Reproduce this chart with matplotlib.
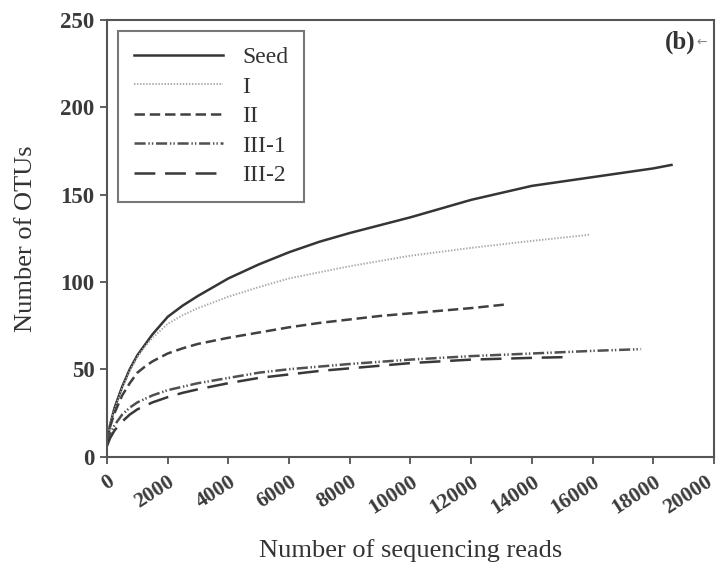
import matplotlib
matplotlib.use("Agg")
import matplotlib.pyplot as plt
import matplotlib.transforms as mtransforms

plt.rcParams['font.family'] = ['Liberation Serif', 'DejaVu Sans']
plt.rcParams['lines.scale_dashes'] = False

# Rarefaction curves: OTUs observed vs. number of sequencing reads
seed_x = [0, 100, 250, 500, 750, 1000, 1250, 1500, 2000, 2500, 3000, 4000, 5000, 6000,
          7000, 8000, 9000, 10000, 12000, 14000, 16000, 18000, 18600]
seed_y = [8, 18, 28, 40, 50, 58, 64, 70, 80, 86.5, 92, 102, 110, 117,
          123, 128, 132.5, 137, 147, 155, 160, 165, 167]

i_x = [0, 100, 250, 500, 750, 1000, 1250, 1500, 2000, 2500, 3000, 4000, 5000, 6000,
       7000, 8000, 9000, 10000, 12000, 14000, 15900]
i_y = [8, 18, 27, 39, 49, 57, 63, 68, 76, 81, 85, 91.5, 97, 102,
       105.5, 109, 112, 115, 119.5, 123.5, 127]

ii_x = [0, 100, 250, 500, 750, 1000, 1250, 1500, 2000, 2500, 3000, 4000, 5000, 6000,
        7000, 8000, 9000, 10000, 12000, 13100]
ii_y = [8, 17, 25, 35, 42, 48, 51.5, 54.5, 59, 62, 64.5, 68, 71, 74,
        76.5, 78.5, 80.5, 82, 85, 87]

iii1_x = [0, 100, 250, 500, 750, 1000, 1250, 1500, 2000, 2500, 3000, 4000, 5000, 6000,
          7000, 8000, 10000, 12000, 14000, 16000, 17600]
iii1_y = [8, 13, 18, 24, 28, 31, 33, 35, 38, 40, 42, 45, 48, 50,
          51.5, 53, 55.5, 57.5, 59, 60.5, 61.5]

iii2_x = [0, 100, 250, 500, 750, 1000, 1250, 1500, 2000, 2500, 3000, 4000, 5000, 6000,
          7000, 8000, 10000, 12000, 14000, 15300]
iii2_y = [6, 10.5, 15, 20, 24, 27, 29, 31, 34, 36.5, 38.5, 42, 45, 47,
          49, 50.5, 53.5, 55.5, 56.5, 57]

x_ticks = [0, 2000, 4000, 6000, 8000, 10000, 12000, 14000, 16000, 18000, 20000]
y_ticks = [0, 50, 100, 150, 200, 250]

fig = plt.figure(figsize=(7.22, 5.78), dpi=100)
ax = fig.add_axes([0.1482, 0.2102, 0.8407, 0.7552])

ax.plot(seed_x, seed_y, color='#353535', lw=1.8, ls='-', label='Seed')
ax.plot(i_x, i_y, color='#a8a8a8', lw=1.4, ls=(0, (1.0, 1.2)), label='I')
ax.plot(ii_x, ii_y, color='#404040', lw=1.8, ls=(0, (7.5, 3.5)), label='II')
ax.plot(iii1_x, iii1_y, color='#505050', lw=1.8,
        ls=(0, (8, 2, 1, 1.5, 1, 2)), label='III-1')
ax.plot(iii2_x, iii2_y, color='#383838', lw=1.8, ls=(0, (15, 7)), label='III-2')

ax.set_xlim(0, 20000)
ax.set_ylim(0, 250)
ax.set_xticks(x_ticks)
ax.set_yticks(y_ticks)
ax.set_xticklabels([str(t) for t in x_ticks], rotation=33, ha='right',
                   rotation_mode='anchor', fontsize=15.5, fontweight='bold', color='#3a3a3a')
ax.set_yticklabels([str(t) for t in y_ticks], fontsize=16.5, fontweight='bold', color='#3a3a3a')
ax.tick_params(axis='both', direction='out', length=5, width=1.2, color='#444444')
ax.tick_params(axis='x', pad=6)
ax.tick_params(axis='y', pad=4)

# keep the last rotated label inside the canvas
last = ax.get_xticklabels()[-1]
last.set_transform(last.get_transform() +
                   mtransforms.ScaledTranslation(-6 / 72, 0, fig.dpi_scale_trans))

for sp in ax.spines.values():
    sp.set_color('#555555')
    sp.set_linewidth(1.5)

ax.set_xlabel('Number of sequencing reads', fontsize=19, color='#333333', labelpad=15)
ax.set_ylabel('Number of OTUs', fontsize=19, color='#333333', labelpad=17)

leg = ax.legend(loc='upper left', bbox_to_anchor=(0.018, 0.9755), borderaxespad=0,
                fontsize=17, handlelength=3.8, handletextpad=0.8, labelspacing=0.34,
                borderpad=0.67, fancybox=False, frameon=True)
leg.get_frame().set_edgecolor('#555555')
leg.get_frame().set_linewidth(1.5)
for t in leg.get_texts():
    t.set_color('#333333')

ax.text(0.969, 0.95, '(b)', transform=ax.transAxes, ha='right', va='center',
        fontsize=18, fontweight='bold', color='#333333')
ax.text(0.971, 0.95, '\u2190', transform=ax.transAxes, ha='left', va='center',
        fontsize=9, color='#888888', family=['DejaVu Sans'])

fig.savefig('out.png', dpi=100)
